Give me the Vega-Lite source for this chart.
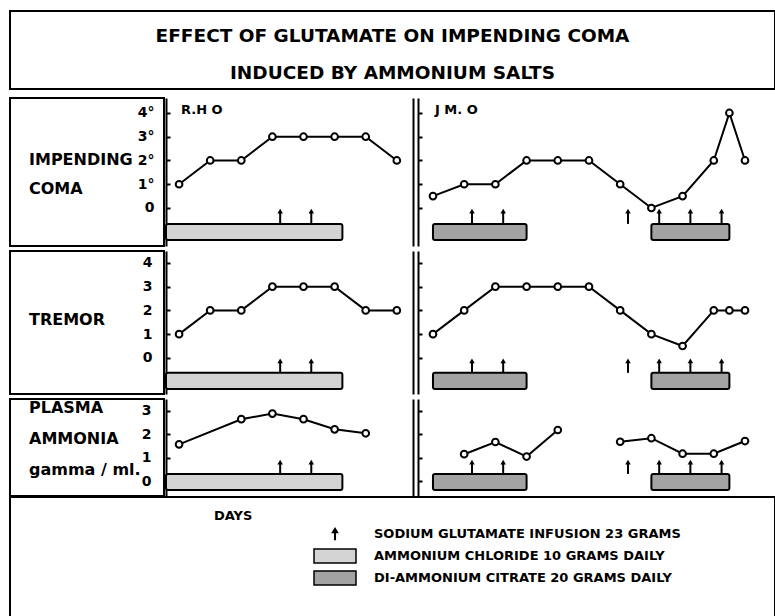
{
  "$schema": "https://vega.github.io/schema/vega-lite/v6.json",
  "padding": {"left": 9, "top": 10, "right": 0, "bottom": 0},
  "background": "white",
  "config": {"view": {"stroke": null}, "font": "DejaVu Sans", "axis": {"grid": false}},
  "datasets": {
    "obs": [
      {"p": "RHO", "m": "coma", "day": 1, "value": 1},
      {"p": "RHO", "m": "coma", "day": 2, "value": 2},
      {"p": "RHO", "m": "coma", "day": 3, "value": 2},
      {"p": "RHO", "m": "coma", "day": 4, "value": 3},
      {"p": "RHO", "m": "coma", "day": 5, "value": 3},
      {"p": "RHO", "m": "coma", "day": 6, "value": 3},
      {"p": "RHO", "m": "coma", "day": 7, "value": 3},
      {"p": "RHO", "m": "coma", "day": 8, "value": 2},
      {"p": "RHO", "m": "tremor", "day": 1, "value": 1},
      {"p": "RHO", "m": "tremor", "day": 2, "value": 2},
      {"p": "RHO", "m": "tremor", "day": 3, "value": 2},
      {"p": "RHO", "m": "tremor", "day": 4, "value": 3},
      {"p": "RHO", "m": "tremor", "day": 5, "value": 3},
      {"p": "RHO", "m": "tremor", "day": 6, "value": 3},
      {"p": "RHO", "m": "tremor", "day": 7, "value": 2},
      {"p": "RHO", "m": "tremor", "day": 8, "value": 2},
      {"p": "RHO", "m": "ammonia", "day": 1, "value": 1.58},
      {"p": "RHO", "m": "ammonia", "day": 3, "value": 2.65},
      {"p": "RHO", "m": "ammonia", "day": 4, "value": 2.89},
      {"p": "RHO", "m": "ammonia", "day": 5, "value": 2.65},
      {"p": "RHO", "m": "ammonia", "day": 6, "value": 2.22},
      {"p": "RHO", "m": "ammonia", "day": 7, "value": 2.05},
      {"p": "JMO", "m": "coma", "day": 1, "value": 0.5},
      {"p": "JMO", "m": "coma", "day": 2, "value": 1},
      {"p": "JMO", "m": "coma", "day": 3, "value": 1},
      {"p": "JMO", "m": "coma", "day": 4, "value": 2},
      {"p": "JMO", "m": "coma", "day": 5, "value": 2},
      {"p": "JMO", "m": "coma", "day": 6, "value": 2},
      {"p": "JMO", "m": "coma", "day": 7, "value": 1},
      {"p": "JMO", "m": "coma", "day": 8, "value": 0},
      {"p": "JMO", "m": "coma", "day": 9, "value": 0.5},
      {"p": "JMO", "m": "coma", "day": 10, "value": 2},
      {"p": "JMO", "m": "coma", "day": 10.5, "value": 4},
      {"p": "JMO", "m": "coma", "day": 11, "value": 2},
      {"p": "JMO", "m": "tremor", "day": 1, "value": 1},
      {"p": "JMO", "m": "tremor", "day": 2, "value": 2},
      {"p": "JMO", "m": "tremor", "day": 3, "value": 3},
      {"p": "JMO", "m": "tremor", "day": 4, "value": 3},
      {"p": "JMO", "m": "tremor", "day": 5, "value": 3},
      {"p": "JMO", "m": "tremor", "day": 6, "value": 3},
      {"p": "JMO", "m": "tremor", "day": 7, "value": 2},
      {"p": "JMO", "m": "tremor", "day": 8, "value": 1},
      {"p": "JMO", "m": "tremor", "day": 9, "value": 0.5},
      {"p": "JMO", "m": "tremor", "day": 10, "value": 2},
      {"p": "JMO", "m": "tremor", "day": 10.5, "value": 2},
      {"p": "JMO", "m": "tremor", "day": 11, "value": 2},
      {"p": "JMO", "m": "ammonia", "s": "a", "day": 2, "value": 1.16},
      {"p": "JMO", "m": "ammonia", "s": "a", "day": 3, "value": 1.68},
      {"p": "JMO", "m": "ammonia", "s": "a", "day": 4, "value": 1.06},
      {"p": "JMO", "m": "ammonia", "s": "a", "day": 5, "value": 2.19},
      {"p": "JMO", "m": "ammonia", "s": "b", "day": 7, "value": 1.69},
      {"p": "JMO", "m": "ammonia", "s": "b", "day": 8, "value": 1.84},
      {"p": "JMO", "m": "ammonia", "s": "b", "day": 9, "value": 1.18},
      {"p": "JMO", "m": "ammonia", "s": "b", "day": 10, "value": 1.18},
      {"p": "JMO", "m": "ammonia", "s": "b", "day": 11, "value": 1.72}
    ],
    "bars": [
      {"p": "RHO", "salt": "ammonium chloride", "start": 0.58, "end": 6.25},
      {"p": "JMO", "salt": "di-ammonium citrate", "start": 1, "end": 4},
      {"p": "JMO", "salt": "di-ammonium citrate", "start": 8, "end": 10.5}
    ],
    "infusions": [
      {"p": "RHO", "day": 4.25},
      {"p": "RHO", "day": 5.25},
      {"p": "JMO", "day": 2.25},
      {"p": "JMO", "day": 3.25},
      {"p": "JMO", "day": 7.25},
      {"p": "JMO", "day": 8.25},
      {"p": "JMO", "day": 9.25},
      {"p": "JMO", "day": 10.25}
    ],
    "legendItems": [
      {"item": "SODIUM GLUTAMATE INFUSION  23 GRAMS"},
      {"item": "AMMONIUM CHLORIDE  10 GRAMS DAILY"},
      {"item": "DI-AMMONIUM CITRATE  20 GRAMS DAILY"}
    ]
  },
  "resolve": {
    "scale": {"fill": "independent", "shape": "independent", "stroke": "independent"},
    "legend": {"fill": "independent", "shape": "independent", "stroke": "independent"}
  },
  "spacing": -2,
  "vconcat": [
    {
      "spacing": 7,
      "vconcat": [
        {
          "width": 765, "height": 78,
          "view": {"stroke": "black", "strokeWidth": 2},
          "data": {"values": [{"title": ["EFFECT OF GLUTAMATE ON IMPENDING COMA", "INDUCED BY AMMONIUM SALTS"]}]},
          "mark": {"type": "text", "font": "DejaVu Sans", "fontWeight": "bold", "fontSize": 18.5, "lineHeight": 37, "dy": -14, "color": "black"},
          "encoding": {"text": {"field": "title", "type": "nominal"}}
        },
        {
          "spacing": 3,
          "vconcat": [
            {
              "spacing": 0,
              "hconcat": [
                {
                  "width": 154, "height": 148,
                  "view": {"stroke": "black", "strokeWidth": 2},
                  "layer": [
                    {
                      "data": {"values": [{"label": ["IMPENDING", "COMA"]}]},
                      "mark": {"type": "text", "align": "left", "baseline": "middle", "dx": -58, "dy": -12, "font": "DejaVu Sans", "fontWeight": "bold", "fontSize": 16, "lineHeight": 29, "color": "black"},
                      "encoding": {"text": {"field": "label", "type": "nominal"}}
                    },
                    {
                      "data": {"values": [{}]},
                      "mark": {"type": "point", "opacity": 0},
                      "encoding": {"y": {"datum": 0, "type": "quantitative", "scale": {"domain": [-1.6, 4.63], "nice": false, "zero": false},
                        "axis": {"orient": "right", "values": [0, 1, 2, 3, 4], "labelExpr": "datum.value == 0 ? '0' : datum.label + '°'", "domain": false, "ticks": false, "grid": false, "title": null, "labelAlign": "right", "labelPadding": -10, "labelOverlap": false, "labelFont": "DejaVu Sans", "labelFontWeight": "bold", "labelFontSize": 14, "labelColor": "black"}}}
                    }
                  ]
                },
                {
                  "spacing": 4,
                  "hconcat": [
                    {
                      "width": 247, "height": 148,
                      "title": {"text": "R.H O", "anchor": "start", "frame": "group", "orient": "top", "offset": -19, "baseline": "top", "dx": 15, "font": "DejaVu Sans", "fontSize": 13, "fontWeight": "bold", "color": "black"},
                      "resolve": {"axis": {"y": "independent"}},
                      "layer": [
                        {
                          "data": {"name": "bars"}, "transform": [{"filter": "datum.p == 'RHO'"}],
                          "mark": {"type": "rect", "fill": "#d4d4d4", "stroke": "black", "strokeWidth": 2, "cornerRadius": 2},
                          "encoding": {
                            "x": {"field": "start", "type": "quantitative", "scale": {"domain": [0.58, 8.52], "nice": false, "zero": false}, "axis": null},
                            "x2": {"field": "end"},
                            "y": {"datum": -0.67, "type": "quantitative", "scale": {"domain": [-1.6, 4.63], "nice": false, "zero": false}, "axis": null},
                            "y2": {"datum": -1.35}
                          }
                        },
                        {
                          "data": {"name": "infusions"}, "transform": [{"filter": "datum.p == 'RHO'"}],
                          "mark": {"type": "rule", "color": "black", "strokeWidth": 2},
                          "encoding": {
                            "x": {"field": "day", "type": "quantitative", "scale": {"domain": [0.58, 8.52], "nice": false, "zero": false}, "axis": null},
                            "y": {"datum": -0.67, "type": "quantitative", "scale": {"domain": [-1.6, 4.63], "nice": false, "zero": false}, "axis": null},
                            "y2": {"datum": -0.13}
                          }
                        },
                        {
                          "data": {"name": "infusions"}, "transform": [{"filter": "datum.p == 'RHO'"}],
                          "mark": {"type": "point", "shape": "triangle-up", "filled": true, "color": "black", "size": 30, "opacity": 1},
                          "encoding": {
                            "x": {"field": "day", "type": "quantitative", "scale": {"domain": [0.58, 8.52], "nice": false, "zero": false}, "axis": null},
                            "y": {"datum": -0.13, "type": "quantitative", "scale": {"domain": [-1.6, 4.63], "nice": false, "zero": false}, "axis": null}
                          }
                        },
                        {
                          "data": {"name": "obs"}, "transform": [{"filter": "datum.p == 'RHO' && datum.m == 'coma'"}],
                          "mark": {"type": "line", "color": "black", "strokeWidth": 2},
                          "encoding": {
                            "x": {"field": "day", "type": "quantitative", "scale": {"domain": [0.58, 8.52], "nice": false, "zero": false},
                              "axis": {"orient": "bottom", "values": [1, 2, 3, 4, 5, 6, 7, 8], "labels": false, "title": null, "grid": false, "domainColor": "black", "domainWidth": 2, "tickSize": -4, "tickWidth": 2, "tickColor": "black"}},
                            "y": {"field": "value", "type": "quantitative", "scale": {"domain": [-1.6, 4.63], "nice": false, "zero": false},
                              "axis": {"orient": "left", "values": [0, 1, 2, 3, 4], "labels": false, "title": null, "grid": false, "domainColor": "black", "domainWidth": 2, "tickSize": -4, "tickWidth": 2, "tickColor": "black"}},
                            "detail": {"field": "s", "type": "nominal"}
                          }
                        },
                        {
                          "data": {"name": "obs"}, "transform": [{"filter": "datum.p == 'RHO' && datum.m == 'coma'"}],
                          "mark": {"type": "point", "shape": "circle", "filled": true, "fill": "white", "stroke": "black", "strokeWidth": 2, "size": 45, "opacity": 1},
                          "encoding": {
                            "x": {"field": "day", "type": "quantitative", "scale": {"domain": [0.58, 8.52], "nice": false, "zero": false}, "axis": null},
                            "y": {"field": "value", "type": "quantitative", "scale": {"domain": [-1.6, 4.63], "nice": false, "zero": false}, "axis": null}
                          }
                        },
                        {
                          "data": {"values": [{}]},
                          "mark": {"type": "rule", "opacity": 0},
                          "encoding": {"y": {"datum": 0, "type": "quantitative", "scale": {"domain": [-1.6, 4.63], "nice": false, "zero": false},
                            "axis": {"orient": "right", "labels": false, "ticks": false, "title": null, "grid": false, "domainColor": "black", "domainWidth": 2}}}
                        }
                      ]
                    },
                    {
                      "width": 356, "height": 148,
                      "title": {"text": "J M. O", "anchor": "start", "frame": "group", "orient": "top", "offset": -19, "baseline": "top", "dx": 17, "font": "DejaVu Sans", "fontSize": 13, "fontWeight": "bold", "color": "black"},
                      "resolve": {"axis": {"y": "independent"}},
                      "layer": [
                        {
                          "data": {"name": "bars"}, "transform": [{"filter": "datum.p == 'JMO'"}],
                          "mark": {"type": "rect", "fill": "#a3a3a3", "stroke": "black", "strokeWidth": 2, "cornerRadius": 2},
                          "encoding": {
                            "x": {"field": "start", "type": "quantitative", "scale": {"domain": [0.52, 11.93], "nice": false, "zero": false}, "axis": null},
                            "x2": {"field": "end"},
                            "y": {"datum": -0.67, "type": "quantitative", "scale": {"domain": [-1.6, 4.63], "nice": false, "zero": false}, "axis": null},
                            "y2": {"datum": -1.35}
                          }
                        },
                        {
                          "data": {"name": "infusions"}, "transform": [{"filter": "datum.p == 'JMO'"}],
                          "mark": {"type": "rule", "color": "black", "strokeWidth": 2},
                          "encoding": {
                            "x": {"field": "day", "type": "quantitative", "scale": {"domain": [0.52, 11.93], "nice": false, "zero": false}, "axis": null},
                            "y": {"datum": -0.67, "type": "quantitative", "scale": {"domain": [-1.6, 4.63], "nice": false, "zero": false}, "axis": null},
                            "y2": {"datum": -0.13}
                          }
                        },
                        {
                          "data": {"name": "infusions"}, "transform": [{"filter": "datum.p == 'JMO'"}],
                          "mark": {"type": "point", "shape": "triangle-up", "filled": true, "color": "black", "size": 30, "opacity": 1},
                          "encoding": {
                            "x": {"field": "day", "type": "quantitative", "scale": {"domain": [0.52, 11.93], "nice": false, "zero": false}, "axis": null},
                            "y": {"datum": -0.13, "type": "quantitative", "scale": {"domain": [-1.6, 4.63], "nice": false, "zero": false}, "axis": null}
                          }
                        },
                        {
                          "data": {"name": "obs"}, "transform": [{"filter": "datum.p == 'JMO' && datum.m == 'coma'"}],
                          "mark": {"type": "line", "color": "black", "strokeWidth": 2},
                          "encoding": {
                            "x": {"field": "day", "type": "quantitative", "scale": {"domain": [0.52, 11.93], "nice": false, "zero": false},
                              "axis": {"orient": "bottom", "values": [1, 2, 3, 4, 5, 6, 7, 8, 9, 10, 11], "labels": false, "title": null, "grid": false, "domainColor": "black", "domainWidth": 2, "tickSize": -4, "tickWidth": 2, "tickColor": "black"}},
                            "y": {"field": "value", "type": "quantitative", "scale": {"domain": [-1.6, 4.63], "nice": false, "zero": false},
                              "axis": {"orient": "left", "values": [0, 1, 2, 3, 4], "labels": false, "title": null, "grid": false, "domainColor": "black", "domainWidth": 2, "tickSize": -4, "tickWidth": 2, "tickColor": "black"}},
                            "detail": {"field": "s", "type": "nominal"}
                          }
                        },
                        {
                          "data": {"name": "obs"}, "transform": [{"filter": "datum.p == 'JMO' && datum.m == 'coma'"}],
                          "mark": {"type": "point", "shape": "circle", "filled": true, "fill": "white", "stroke": "black", "strokeWidth": 2, "size": 45, "opacity": 1},
                          "encoding": {
                            "x": {"field": "day", "type": "quantitative", "scale": {"domain": [0.52, 11.93], "nice": false, "zero": false}, "axis": null},
                            "y": {"field": "value", "type": "quantitative", "scale": {"domain": [-1.6, 4.63], "nice": false, "zero": false}, "axis": null}
                          }
                        }
                      ]
                    }
                  ]
                }
              ]
            },
            {
              "spacing": 0,
              "hconcat": [
                {
                  "width": 154, "height": 143,
                  "view": {"stroke": "black", "strokeWidth": 2},
                  "layer": [
                    {
                      "data": {"values": [{"label": ["TREMOR"]}]},
                      "mark": {"type": "text", "align": "left", "baseline": "middle", "dx": -58, "dy": -3, "font": "DejaVu Sans", "fontWeight": "bold", "fontSize": 16, "lineHeight": 29, "color": "black"},
                      "encoding": {"text": {"field": "label", "type": "nominal"}}
                    },
                    {
                      "data": {"values": [{}]},
                      "mark": {"type": "point", "opacity": 0},
                      "encoding": {"y": {"datum": 0, "type": "quantitative", "scale": {"domain": [-1.52, 4.5], "nice": false, "zero": false},
                        "axis": {"orient": "right", "values": [0, 1, 2, 3, 4], "format": "d", "domain": false, "ticks": false, "grid": false, "title": null, "labelAlign": "right", "labelPadding": -12, "labelOverlap": false, "labelFont": "DejaVu Sans", "labelFontWeight": "bold", "labelFontSize": 14, "labelColor": "black"}}}
                    }
                  ]
                },
                {
                  "spacing": 4,
                  "hconcat": [
                    {
                      "width": 247, "height": 143,
                      "resolve": {"axis": {"y": "independent"}},
                      "layer": [
                        {
                          "data": {"name": "bars"}, "transform": [{"filter": "datum.p == 'RHO'"}],
                          "mark": {"type": "rect", "fill": "#d4d4d4", "stroke": "black", "strokeWidth": 2, "cornerRadius": 2},
                          "encoding": {
                            "x": {"field": "start", "type": "quantitative", "scale": {"domain": [0.58, 8.52], "nice": false, "zero": false}, "axis": null},
                            "x2": {"field": "end"},
                            "y": {"datum": -0.63, "type": "quantitative", "scale": {"domain": [-1.52, 4.5], "nice": false, "zero": false}, "axis": null},
                            "y2": {"datum": -1.31}
                          }
                        },
                        {
                          "data": {"name": "infusions"}, "transform": [{"filter": "datum.p == 'RHO'"}],
                          "mark": {"type": "rule", "color": "black", "strokeWidth": 2},
                          "encoding": {
                            "x": {"field": "day", "type": "quantitative", "scale": {"domain": [0.58, 8.52], "nice": false, "zero": false}, "axis": null},
                            "y": {"datum": -0.63, "type": "quantitative", "scale": {"domain": [-1.52, 4.5], "nice": false, "zero": false}, "axis": null},
                            "y2": {"datum": -0.13}
                          }
                        },
                        {
                          "data": {"name": "infusions"}, "transform": [{"filter": "datum.p == 'RHO'"}],
                          "mark": {"type": "point", "shape": "triangle-up", "filled": true, "color": "black", "size": 30, "opacity": 1},
                          "encoding": {
                            "x": {"field": "day", "type": "quantitative", "scale": {"domain": [0.58, 8.52], "nice": false, "zero": false}, "axis": null},
                            "y": {"datum": -0.13, "type": "quantitative", "scale": {"domain": [-1.52, 4.5], "nice": false, "zero": false}, "axis": null}
                          }
                        },
                        {
                          "data": {"name": "obs"}, "transform": [{"filter": "datum.p == 'RHO' && datum.m == 'tremor'"}],
                          "mark": {"type": "line", "color": "black", "strokeWidth": 2},
                          "encoding": {
                            "x": {"field": "day", "type": "quantitative", "scale": {"domain": [0.58, 8.52], "nice": false, "zero": false},
                              "axis": {"orient": "bottom", "values": [1, 2, 3, 4, 5, 6, 7, 8], "labels": false, "title": null, "grid": false, "domainColor": "black", "domainWidth": 2, "tickSize": -4, "tickWidth": 2, "tickColor": "black"}},
                            "y": {"field": "value", "type": "quantitative", "scale": {"domain": [-1.52, 4.5], "nice": false, "zero": false},
                              "axis": {"orient": "left", "values": [0, 1, 2, 3, 4], "labels": false, "title": null, "grid": false, "domainColor": "black", "domainWidth": 2, "tickSize": -4, "tickWidth": 2, "tickColor": "black"}},
                            "detail": {"field": "s", "type": "nominal"}
                          }
                        },
                        {
                          "data": {"name": "obs"}, "transform": [{"filter": "datum.p == 'RHO' && datum.m == 'tremor'"}],
                          "mark": {"type": "point", "shape": "circle", "filled": true, "fill": "white", "stroke": "black", "strokeWidth": 2, "size": 45, "opacity": 1},
                          "encoding": {
                            "x": {"field": "day", "type": "quantitative", "scale": {"domain": [0.58, 8.52], "nice": false, "zero": false}, "axis": null},
                            "y": {"field": "value", "type": "quantitative", "scale": {"domain": [-1.52, 4.5], "nice": false, "zero": false}, "axis": null}
                          }
                        },
                        {
                          "data": {"values": [{}]},
                          "mark": {"type": "rule", "opacity": 0},
                          "encoding": {"y": {"datum": 0, "type": "quantitative", "scale": {"domain": [-1.52, 4.5], "nice": false, "zero": false},
                            "axis": {"orient": "right", "labels": false, "ticks": false, "title": null, "grid": false, "domainColor": "black", "domainWidth": 2}}}
                        }
                      ]
                    },
                    {
                      "width": 356, "height": 143,
                      "resolve": {"axis": {"y": "independent"}},
                      "layer": [
                        {
                          "data": {"name": "bars"}, "transform": [{"filter": "datum.p == 'JMO'"}],
                          "mark": {"type": "rect", "fill": "#a3a3a3", "stroke": "black", "strokeWidth": 2, "cornerRadius": 2},
                          "encoding": {
                            "x": {"field": "start", "type": "quantitative", "scale": {"domain": [0.52, 11.93], "nice": false, "zero": false}, "axis": null},
                            "x2": {"field": "end"},
                            "y": {"datum": -0.63, "type": "quantitative", "scale": {"domain": [-1.52, 4.5], "nice": false, "zero": false}, "axis": null},
                            "y2": {"datum": -1.31}
                          }
                        },
                        {
                          "data": {"name": "infusions"}, "transform": [{"filter": "datum.p == 'JMO'"}],
                          "mark": {"type": "rule", "color": "black", "strokeWidth": 2},
                          "encoding": {
                            "x": {"field": "day", "type": "quantitative", "scale": {"domain": [0.52, 11.93], "nice": false, "zero": false}, "axis": null},
                            "y": {"datum": -0.63, "type": "quantitative", "scale": {"domain": [-1.52, 4.5], "nice": false, "zero": false}, "axis": null},
                            "y2": {"datum": -0.13}
                          }
                        },
                        {
                          "data": {"name": "infusions"}, "transform": [{"filter": "datum.p == 'JMO'"}],
                          "mark": {"type": "point", "shape": "triangle-up", "filled": true, "color": "black", "size": 30, "opacity": 1},
                          "encoding": {
                            "x": {"field": "day", "type": "quantitative", "scale": {"domain": [0.52, 11.93], "nice": false, "zero": false}, "axis": null},
                            "y": {"datum": -0.13, "type": "quantitative", "scale": {"domain": [-1.52, 4.5], "nice": false, "zero": false}, "axis": null}
                          }
                        },
                        {
                          "data": {"name": "obs"}, "transform": [{"filter": "datum.p == 'JMO' && datum.m == 'tremor'"}],
                          "mark": {"type": "line", "color": "black", "strokeWidth": 2},
                          "encoding": {
                            "x": {"field": "day", "type": "quantitative", "scale": {"domain": [0.52, 11.93], "nice": false, "zero": false},
                              "axis": {"orient": "bottom", "values": [1, 2, 3, 4, 5, 6, 7, 8, 9, 10, 11], "labels": false, "title": null, "grid": false, "domainColor": "black", "domainWidth": 2, "tickSize": -4, "tickWidth": 2, "tickColor": "black"}},
                            "y": {"field": "value", "type": "quantitative", "scale": {"domain": [-1.52, 4.5], "nice": false, "zero": false},
                              "axis": {"orient": "left", "values": [0, 1, 2, 3, 4], "labels": false, "title": null, "grid": false, "domainColor": "black", "domainWidth": 2, "tickSize": -4, "tickWidth": 2, "tickColor": "black"}},
                            "detail": {"field": "s", "type": "nominal"}
                          }
                        },
                        {
                          "data": {"name": "obs"}, "transform": [{"filter": "datum.p == 'JMO' && datum.m == 'tremor'"}],
                          "mark": {"type": "point", "shape": "circle", "filled": true, "fill": "white", "stroke": "black", "strokeWidth": 2, "size": 45, "opacity": 1},
                          "encoding": {
                            "x": {"field": "day", "type": "quantitative", "scale": {"domain": [0.52, 11.93], "nice": false, "zero": false}, "axis": null},
                            "y": {"field": "value", "type": "quantitative", "scale": {"domain": [-1.52, 4.5], "nice": false, "zero": false}, "axis": null}
                          }
                        }
                      ]
                    }
                  ]
                }
              ]
            },
            {
              "spacing": 0,
              "hconcat": [
                {
                  "width": 154, "height": 97,
                  "view": {"stroke": "black", "strokeWidth": 2},
                  "layer": [
                    {
                      "data": {"values": [{"label": ["PLASMA", "AMMONIA", "gamma / ml."]}]},
                      "mark": {"type": "text", "align": "left", "baseline": "middle", "dx": -58, "dy": -39.5, "font": "DejaVu Sans", "fontWeight": "bold", "fontSize": 16, "lineHeight": 31, "color": "black"},
                      "encoding": {"text": {"field": "label", "type": "nominal"}}
                    },
                    {
                      "data": {"values": [{}]},
                      "mark": {"type": "point", "opacity": 0},
                      "encoding": {"y": {"datum": 0, "type": "quantitative", "scale": {"domain": [-0.62, 3.51], "nice": false, "zero": false},
                        "axis": {"orient": "right", "values": [0, 1, 2, 3], "format": "d", "domain": false, "ticks": false, "grid": false, "title": null, "labelAlign": "right", "labelPadding": -13, "labelOverlap": false, "labelFont": "DejaVu Sans", "labelFontWeight": "bold", "labelFontSize": 14, "labelColor": "black"}}}
                    }
                  ]
                },
                {
                  "spacing": 4,
                  "hconcat": [
                    {
                      "width": 247, "height": 97,
                      "resolve": {"axis": {"y": "independent"}},
                      "layer": [
                        {
                          "data": {"name": "bars"}, "transform": [{"filter": "datum.p == 'RHO'"}],
                          "mark": {"type": "rect", "fill": "#d4d4d4", "stroke": "black", "strokeWidth": 2, "cornerRadius": 2},
                          "encoding": {
                            "x": {"field": "start", "type": "quantitative", "scale": {"domain": [0.58, 8.52], "nice": false, "zero": false}, "axis": null},
                            "x2": {"field": "end"},
                            "y": {"datum": 0.32, "type": "quantitative", "scale": {"domain": [-0.62, 3.51], "nice": false, "zero": false}, "axis": null},
                            "y2": {"datum": -0.36}
                          }
                        },
                        {
                          "data": {"name": "infusions"}, "transform": [{"filter": "datum.p == 'RHO'"}],
                          "mark": {"type": "rule", "color": "black", "strokeWidth": 2},
                          "encoding": {
                            "x": {"field": "day", "type": "quantitative", "scale": {"domain": [0.58, 8.52], "nice": false, "zero": false}, "axis": null},
                            "y": {"datum": 0.32, "type": "quantitative", "scale": {"domain": [-0.62, 3.51], "nice": false, "zero": false}, "axis": null},
                            "y2": {"datum": 0.82}
                          }
                        },
                        {
                          "data": {"name": "infusions"}, "transform": [{"filter": "datum.p == 'RHO'"}],
                          "mark": {"type": "point", "shape": "triangle-up", "filled": true, "color": "black", "size": 30, "opacity": 1},
                          "encoding": {
                            "x": {"field": "day", "type": "quantitative", "scale": {"domain": [0.58, 8.52], "nice": false, "zero": false}, "axis": null},
                            "y": {"datum": 0.82, "type": "quantitative", "scale": {"domain": [-0.62, 3.51], "nice": false, "zero": false}, "axis": null}
                          }
                        },
                        {
                          "data": {"name": "obs"}, "transform": [{"filter": "datum.p == 'RHO' && datum.m == 'ammonia'"}],
                          "mark": {"type": "line", "color": "black", "strokeWidth": 2},
                          "encoding": {
                            "x": {"field": "day", "type": "quantitative", "scale": {"domain": [0.58, 8.52], "nice": false, "zero": false},
                              "axis": {"orient": "bottom", "values": [1, 2, 3, 4, 5, 6, 7, 8], "labels": false, "title": null, "grid": false, "domainColor": "black", "domainWidth": 2, "tickSize": -4, "tickWidth": 2, "tickColor": "black"}},
                            "y": {"field": "value", "type": "quantitative", "scale": {"domain": [-0.62, 3.51], "nice": false, "zero": false},
                              "axis": {"orient": "left", "values": [0, 1, 2, 3], "labels": false, "title": null, "grid": false, "domainColor": "black", "domainWidth": 2, "tickSize": -4, "tickWidth": 2, "tickColor": "black"}},
                            "detail": {"field": "s", "type": "nominal"}
                          }
                        },
                        {
                          "data": {"name": "obs"}, "transform": [{"filter": "datum.p == 'RHO' && datum.m == 'ammonia'"}],
                          "mark": {"type": "point", "shape": "circle", "filled": true, "fill": "white", "stroke": "black", "strokeWidth": 2, "size": 45, "opacity": 1},
                          "encoding": {
                            "x": {"field": "day", "type": "quantitative", "scale": {"domain": [0.58, 8.52], "nice": false, "zero": false}, "axis": null},
                            "y": {"field": "value", "type": "quantitative", "scale": {"domain": [-0.62, 3.51], "nice": false, "zero": false}, "axis": null}
                          }
                        },
                        {
                          "data": {"values": [{}]},
                          "mark": {"type": "rule", "opacity": 0},
                          "encoding": {"y": {"datum": 0, "type": "quantitative", "scale": {"domain": [-0.62, 3.51], "nice": false, "zero": false},
                            "axis": {"orient": "right", "labels": false, "ticks": false, "title": null, "grid": false, "domainColor": "black", "domainWidth": 2}}}
                        }
                      ]
                    },
                    {
                      "width": 356, "height": 97,
                      "resolve": {"axis": {"y": "independent"}},
                      "layer": [
                        {
                          "data": {"name": "bars"}, "transform": [{"filter": "datum.p == 'JMO'"}],
                          "mark": {"type": "rect", "fill": "#a3a3a3", "stroke": "black", "strokeWidth": 2, "cornerRadius": 2},
                          "encoding": {
                            "x": {"field": "start", "type": "quantitative", "scale": {"domain": [0.52, 11.93], "nice": false, "zero": false}, "axis": null},
                            "x2": {"field": "end"},
                            "y": {"datum": 0.32, "type": "quantitative", "scale": {"domain": [-0.62, 3.51], "nice": false, "zero": false}, "axis": null},
                            "y2": {"datum": -0.36}
                          }
                        },
                        {
                          "data": {"name": "infusions"}, "transform": [{"filter": "datum.p == 'JMO'"}],
                          "mark": {"type": "rule", "color": "black", "strokeWidth": 2},
                          "encoding": {
                            "x": {"field": "day", "type": "quantitative", "scale": {"domain": [0.52, 11.93], "nice": false, "zero": false}, "axis": null},
                            "y": {"datum": 0.32, "type": "quantitative", "scale": {"domain": [-0.62, 3.51], "nice": false, "zero": false}, "axis": null},
                            "y2": {"datum": 0.82}
                          }
                        },
                        {
                          "data": {"name": "infusions"}, "transform": [{"filter": "datum.p == 'JMO'"}],
                          "mark": {"type": "point", "shape": "triangle-up", "filled": true, "color": "black", "size": 30, "opacity": 1},
                          "encoding": {
                            "x": {"field": "day", "type": "quantitative", "scale": {"domain": [0.52, 11.93], "nice": false, "zero": false}, "axis": null},
                            "y": {"datum": 0.82, "type": "quantitative", "scale": {"domain": [-0.62, 3.51], "nice": false, "zero": false}, "axis": null}
                          }
                        },
                        {
                          "data": {"name": "obs"}, "transform": [{"filter": "datum.p == 'JMO' && datum.m == 'ammonia'"}],
                          "mark": {"type": "line", "color": "black", "strokeWidth": 2},
                          "encoding": {
                            "x": {"field": "day", "type": "quantitative", "scale": {"domain": [0.52, 11.93], "nice": false, "zero": false},
                              "axis": {"orient": "bottom", "values": [1, 2, 3, 4, 5, 6, 7, 8, 9, 10, 11], "labels": false, "title": null, "grid": false, "domainColor": "black", "domainWidth": 2, "tickSize": -4, "tickWidth": 2, "tickColor": "black"}},
                            "y": {"field": "value", "type": "quantitative", "scale": {"domain": [-0.62, 3.51], "nice": false, "zero": false},
                              "axis": {"orient": "left", "values": [0, 1, 2, 3], "labels": false, "title": null, "grid": false, "domainColor": "black", "domainWidth": 2, "tickSize": -4, "tickWidth": 2, "tickColor": "black"}},
                            "detail": {"field": "s", "type": "nominal"}
                          }
                        },
                        {
                          "data": {"name": "obs"}, "transform": [{"filter": "datum.p == 'JMO' && datum.m == 'ammonia'"}],
                          "mark": {"type": "point", "shape": "circle", "filled": true, "fill": "white", "stroke": "black", "strokeWidth": 2, "size": 45, "opacity": 1},
                          "encoding": {
                            "x": {"field": "day", "type": "quantitative", "scale": {"domain": [0.52, 11.93], "nice": false, "zero": false}, "axis": null},
                            "y": {"field": "value", "type": "quantitative", "scale": {"domain": [-0.62, 3.51], "nice": false, "zero": false}, "axis": null}
                          }
                        }
                      ]
                    }
                  ]
                }
              ]
            }
          ]
        }
      ]
    },
    {
      "width": 765, "height": 120,
      "view": {"stroke": "black", "strokeWidth": 2},
      "data": {"name": "legendItems"},
      "transform": [{"filter": "false"}],
      "mark": {"type": "point", "filled": true, "strokeWidth": 1.5, "opacity": 1},
      "encoding": {
        "fill": {"field": "item", "type": "nominal",
          "scale": {"domain": ["SODIUM GLUTAMATE INFUSION  23 GRAMS", "AMMONIUM CHLORIDE  10 GRAMS DAILY", "DI-AMMONIUM CITRATE  20 GRAMS DAILY"], "range": ["black", "#d4d4d4", "#a3a3a3"]},
          "legend": {"title": "DAYS", "orient": "none", "legendX": 204, "legendY": 26, "padding": 0, "titleOrient": "left", "titleAnchor": "start", "titleBaseline": "bottom", "titlePadding": 60, "titleFont": "DejaVu Sans", "titleFontSize": 13, "titleFontWeight": "bold", "titleColor": "black", "labelFont": "DejaVu Sans", "labelFontSize": 13, "labelFontWeight": "bold", "labelColor": "black", "labelLimit": 0, "labelOffset": 17, "symbolSize": 1764, "symbolOpacity": 1, "symbolFillColor": "black", "symbolStrokeColor": "black", "symbolStrokeWidth": 1.5, "clipHeight": 22, "rowPadding": 0}},
        "shape": {"field": "item", "type": "nominal",
          "scale": {"domain": ["SODIUM GLUTAMATE INFUSION  23 GRAMS", "AMMONIUM CHLORIDE  10 GRAMS DAILY", "DI-AMMONIUM CITRATE  20 GRAMS DAILY"], "range": ["M0,-0.262L0.119,-0.071L0.014,-0.071L0.014,0.262L-0.014,0.262L-0.014,-0.071L-0.119,-0.071Z", "M-1,-0.333L1,-0.333L1,0.333L-1,0.333Z", "M-1,-0.333L1,-0.333L1,0.333L-1,0.333Z"]},
          "legend": {"title": "DAYS", "orient": "none", "legendX": 204, "legendY": 26, "padding": 0, "titleOrient": "left", "titleAnchor": "start", "titleBaseline": "bottom", "titlePadding": 60, "titleFont": "DejaVu Sans", "titleFontSize": 13, "titleFontWeight": "bold", "titleColor": "black", "labelFont": "DejaVu Sans", "labelFontSize": 13, "labelFontWeight": "bold", "labelColor": "black", "labelLimit": 0, "labelOffset": 17, "symbolSize": 1764, "symbolOpacity": 1, "symbolFillColor": "black", "symbolStrokeColor": "black", "symbolStrokeWidth": 1.5, "clipHeight": 22, "rowPadding": 0}},
        "stroke": {"field": "item", "type": "nominal",
          "scale": {"domain": ["SODIUM GLUTAMATE INFUSION  23 GRAMS", "AMMONIUM CHLORIDE  10 GRAMS DAILY", "DI-AMMONIUM CITRATE  20 GRAMS DAILY"], "range": ["black", "black", "black"]},
          "legend": {"title": "DAYS", "orient": "none", "legendX": 204, "legendY": 26, "padding": 0, "titleOrient": "left", "titleAnchor": "start", "titleBaseline": "bottom", "titlePadding": 60, "titleFont": "DejaVu Sans", "titleFontSize": 13, "titleFontWeight": "bold", "titleColor": "black", "labelFont": "DejaVu Sans", "labelFontSize": 13, "labelFontWeight": "bold", "labelColor": "black", "labelLimit": 0, "labelOffset": 17, "symbolSize": 1764, "symbolOpacity": 1, "symbolFillColor": "black", "symbolStrokeColor": "black", "symbolStrokeWidth": 1.5, "clipHeight": 22, "rowPadding": 0}}
      }
    }
  ]
}
